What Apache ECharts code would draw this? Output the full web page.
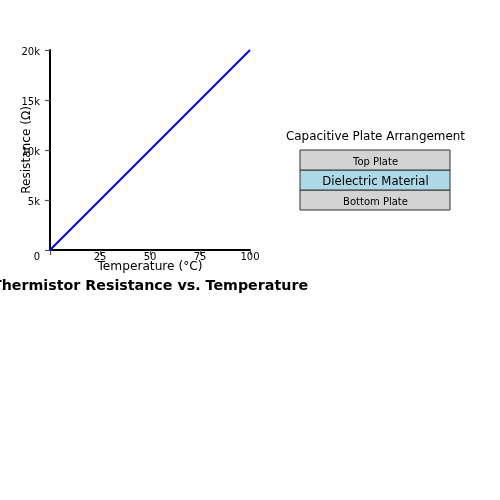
<!DOCTYPE html>
<html>
<head>
<meta charset="utf-8">
<style>html,body{margin:0;padding:0;background:#fff}#c{width:500px;height:500px}</style>
<script src="https://cdn.jsdelivr.net/npm/echarts@6/dist/echarts.min.js"></script>
</head>
<body>
<div id="c"></div>
<script>
const temperatures = [0, 25, 50, 75, 100];
const resistances = [0, 5000, 10000, 15000, 20000];
const plateNames = ['Bottom Plate', 'Dielectric Material', 'Top Plate'];
const plateSpans = [1, 1, 1];
const plateColors = ['#d3d3d3', '#add8e6', '#d3d3d3'];
const plateFontSizes = [10, 11.7, 10];
const chartTitle = 'Thermistor Resistance vs. Temperature';
const plateTitle = 'Capacitive Plate Arrangement';
const FONT = '"DejaVu Sans"';

let running = 0;
const plateRows = plateSpans.map((span, i) => {
  const row = [0, 1, running, running + span, i];
  running += span;
  return row;
});

const chart = echarts.init(document.getElementById('c'), null, {renderer: 'canvas'});
chart.setOption({
  animation: false,
  backgroundColor: '#fff',
  textStyle: {fontFamily: FONT},
  title: [
    {text: chartTitle, left: 145, top: 274, textAlign: 'center',
     textStyle: {fontFamily: FONT, fontSize: 14.25, fontWeight: 'bold', color: '#000'}},
    {text: plateTitle, left: 370.5, top: 126, textAlign: 'center',
     textStyle: {fontFamily: FONT, fontSize: 11.95, fontWeight: 'normal', color: '#000'}}
  ],
  grid: [
    {left: 50, top: 50, width: 200, height: 200, containLabel: false},
    {left: 300, top: 150, width: 150, height: 60, containLabel: false}
  ],
  xAxis: [
    {type: 'value', gridIndex: 0, min: 0, max: 100, interval: 25,
     name: 'Temperature (°C)', nameLocation: 'middle', nameGap: 11, nameMoveOverlap: false,
     nameTextStyle: {fontFamily: FONT, fontSize: 12.2, color: '#000'},
     axisLine: {show: true, lineStyle: {color: '#000', width: 2}},
     axisTick: {show: true, length: 5, lineStyle: {color: '#555', width: 1.2}},
     axisLabel: {fontFamily: FONT, fontSize: 10, color: '#000', margin: 2,
       formatter: v => v === 0 ? '' : String(v), showMinLabel: true, showMaxLabel: true},
     splitLine: {show: false}},
    {type: 'value', gridIndex: 1, min: 0, max: 1, show: false}
  ],
  yAxis: [
    {type: 'value', gridIndex: 0, min: 0, max: 20000, interval: 5000,
     name: 'Resistance (Ω)', nameLocation: 'middle', nameGap: 17, nameRotate: 90, nameMoveOverlap: false,
     nameTextStyle: {fontFamily: FONT, fontSize: 12.1, color: '#000'},
     axisLine: {show: true, onZero: false, lineStyle: {color: '#000', width: 2}},
     axisTick: {show: true, length: 5, lineStyle: {color: '#555', width: 1.2}},
     axisLabel: {fontFamily: FONT, fontSize: 10, color: '#000', margin: 10,
       padding: [5, 0, 0, 0],
       showMinLabel: true, showMaxLabel: true,
       formatter: v => v === 0 ? '{z|0}' : (v / 1000) + 'k',
       rich: {z: {fontFamily: FONT, fontSize: 10, color: '#000', padding: [10, 0, 0, 0]}}},
     splitLine: {show: false}},
    {type: 'value', gridIndex: 1, min: 0, max: 3, show: false}
  ],
  series: [
    {type: 'line', xAxisIndex: 0, yAxisIndex: 0, symbol: 'none', silent: true,
     data: temperatures.map((t, i) => [t, resistances[i]]),
     lineStyle: {color: '#0000ff', width: 2}},
    {type: 'custom', xAxisIndex: 1, yAxisIndex: 1, silent: true, clip: false,
     encode: {x: [0, 1], y: [2, 3]},
     data: plateRows,
     renderItem: (params, api) => {
       const i = api.value(4);
       const a = api.coord([api.value(0), api.value(3)]);
       const b = api.coord([api.value(1), api.value(2)]);
       return {
         type: 'group',
         children: [
           {type: 'rect', shape: {x: a[0], y: a[1], width: b[0] - a[0], height: b[1] - a[1]},
            style: {fill: plateColors[i], stroke: '#333', lineWidth: 1}},
           {type: 'text', x: (a[0] + b[0]) / 2 + 0.5, y: (a[1] + b[1]) / 2 + 2,
            style: {text: plateNames[i], fontFamily: FONT, fontSize: plateFontSizes[i],
                    fill: '#000', align: 'center', verticalAlign: 'middle'}}
         ]
       };
     }}
  ]
});
</script>
</body>
</html>
